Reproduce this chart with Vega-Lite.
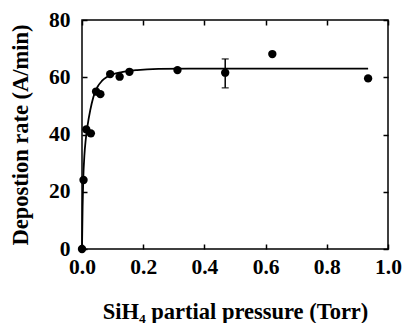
{
  "$schema": "https://vega.github.io/schema/vega-lite/v6.json",
  "width": 306,
  "height": 229,
  "autosize": {"type": "none"},
  "padding": {"left": 82, "top": 20, "right": 17, "bottom": 74},
  "background": "white",
  "config": {
    "view": {"stroke": "black", "strokeWidth": 1.5},
    "font": "Liberation Serif, DejaVu Serif, serif",
    "axis": {
      "grid": false,
      "domain": false,
      "labelFlush": false,
      "tickColor": "black",
      "tickWidth": 1.5,
      "tickSize": -5,
      "labelFont": "Liberation Serif, DejaVu Serif, serif",
      "labelFontWeight": "bold",
      "labelFontSize": 21.5,
      "labelColor": "black",
      "titleFont": "Liberation Serif, DejaVu Serif, serif",
      "titleFontWeight": "bold",
      "titleFontSize": 22.5,
      "titleColor": "black"
    }
  },
  "datasets": {
    "points": [
      {"p": 0.0, "rate": 0.0},
      {"p": 0.005, "rate": 24.1},
      {"p": 0.014, "rate": 41.8},
      {"p": 0.029, "rate": 40.4},
      {"p": 0.046, "rate": 55.0},
      {"p": 0.06, "rate": 54.1},
      {"p": 0.092, "rate": 61.1},
      {"p": 0.123, "rate": 60.2},
      {"p": 0.155, "rate": 61.9},
      {"p": 0.312, "rate": 62.5},
      {"p": 0.468, "rate": 61.6},
      {"p": 0.622, "rate": 68.1},
      {"p": 0.935, "rate": 59.6}
    ],
    "curve": [
      {"p": 0.0, "rate": 0.0},
      {"p": 0.002, "rate": 15},
      {"p": 0.004, "rate": 24},
      {"p": 0.008, "rate": 33},
      {"p": 0.012, "rate": 38},
      {"p": 0.018, "rate": 43},
      {"p": 0.027, "rate": 48.5},
      {"p": 0.037, "rate": 53},
      {"p": 0.05, "rate": 56.5},
      {"p": 0.065, "rate": 58.7},
      {"p": 0.08, "rate": 60},
      {"p": 0.1, "rate": 61},
      {"p": 0.13, "rate": 61.8},
      {"p": 0.18, "rate": 62.5},
      {"p": 0.25, "rate": 62.9},
      {"p": 0.35, "rate": 63},
      {"p": 0.935, "rate": 63}
    ],
    "err": [
      {"p": 0.468, "lo": 56.3, "hi": 66.4}
    ]
  },
  "layer": [
    {
      "encoding": {
        "x": {"field": "p", "type": "quantitative", "scale": {"domain": [0, 1]}, "title": "SiH₄ partial pressure (Torr)",
          "axis": {"orient": "bottom", "values": [0, 0.2, 0.4, 0.6, 0.8, 1.0], "format": ".1f", "labelPadding": 12, "titlePadding": 23}},
        "y": {"field": "rate", "type": "quantitative", "scale": {"domain": [0, 80]}, "title": "Depostion rate (A/min)",
          "axis": {"orient": "left", "values": [0, 20, 40, 60, 80], "labelPadding": 17, "titlePadding": 16}}
      },
      "layer": [
        {
          "data": {"name": "curve"},
          "mark": {"type": "line", "color": "black", "strokeWidth": 1.8, "interpolate": "monotone"}
        },
        {
          "data": {"name": "points"},
          "mark": {"type": "point", "filled": true, "color": "black", "size": 70, "opacity": 1}
        },
        {
          "data": {"name": "err"},
          "mark": {"type": "rule", "color": "black", "strokeWidth": 1.5},
          "encoding": {
            "y": {"field": "lo", "type": "quantitative", "title": "Depostion rate (A/min)"},
            "y2": {"field": "hi"}
          }
        },
        {
          "data": {"name": "err"},
          "mark": {"type": "tick", "color": "black", "orient": "horizontal", "size": 7, "thickness": 1.5},
          "encoding": {
            "y": {"field": "lo", "type": "quantitative", "title": "Depostion rate (A/min)"}
          }
        },
        {
          "data": {"name": "err"},
          "mark": {"type": "tick", "color": "black", "orient": "horizontal", "size": 7, "thickness": 1.5},
          "encoding": {
            "y": {"field": "hi", "type": "quantitative", "title": "Depostion rate (A/min)"}
          }
        }
      ]
    },
    {
      "data": {"name": "points"},
      "mark": {"type": "point", "opacity": 0},
      "encoding": {
        "x": {"field": "p", "type": "quantitative", "scale": {"domain": [0, 1]},
          "axis": {"orient": "top", "values": [0, 0.2, 0.4, 0.6, 0.8, 1.0], "labels": false, "title": null}},
        "y": {"field": "rate", "type": "quantitative", "scale": {"domain": [0, 80]},
          "axis": {"orient": "right", "values": [0, 20, 40, 60, 80], "labels": false, "title": null}}
      }
    }
  ],
  "resolve": {"axis": {"x": "independent", "y": "independent"}}
}
